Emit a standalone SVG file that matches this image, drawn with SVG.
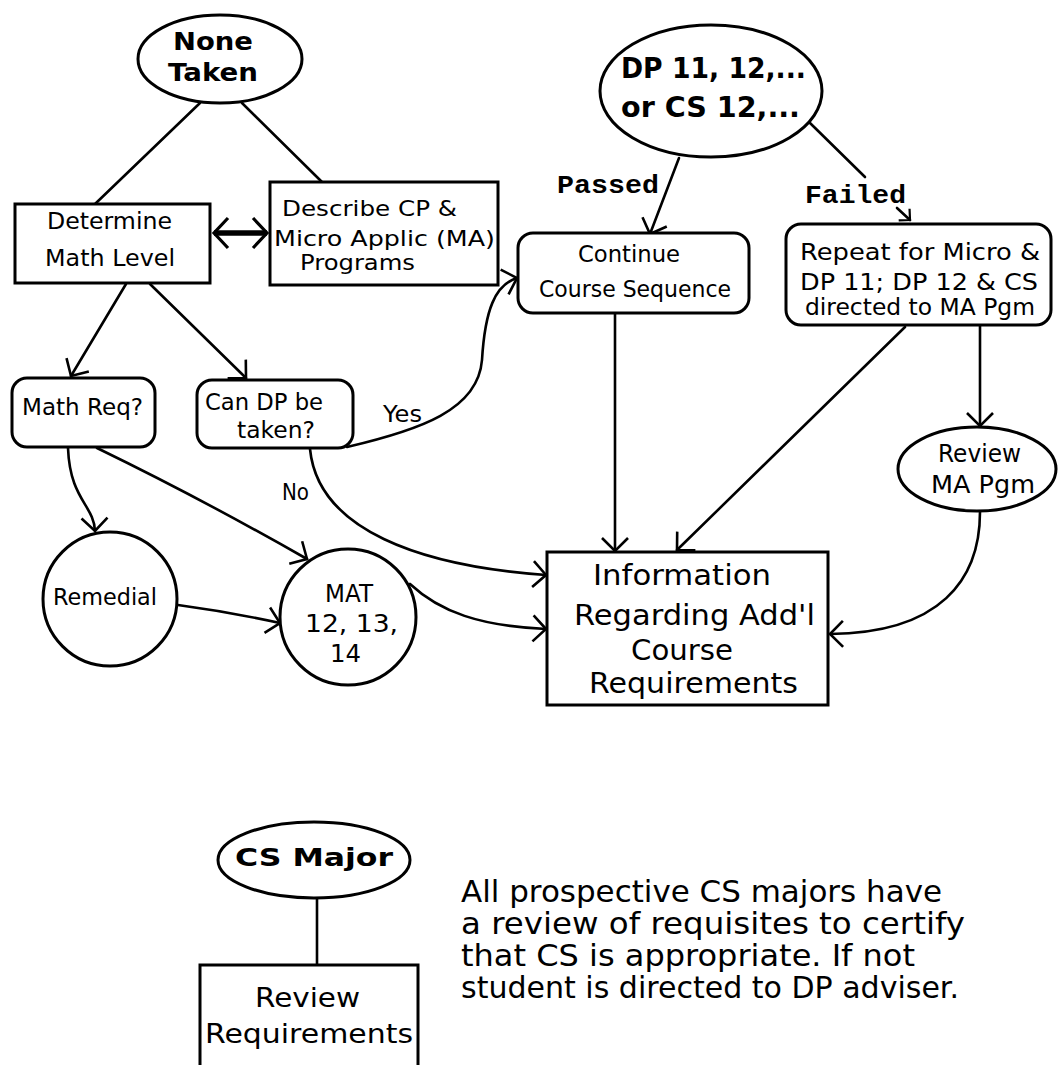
<svg xmlns="http://www.w3.org/2000/svg" width="1058" height="1065" viewBox="0 0 1058 1065">
<defs>
<style>
.shape{fill:#fff;stroke:#000;stroke-width:3}
.edge{fill:none;stroke:#000;stroke-width:2.6;stroke-linecap:round}
.t{font-family:"DejaVu Sans","Liberation Sans",sans-serif;fill:#000}
.b{font-family:"DejaVu Sans","Liberation Sans",sans-serif;font-weight:bold;fill:#000}
.m{font-family:"Liberation Mono","DejaVu Sans Mono",monospace;font-weight:bold;fill:#000}
</style>
<marker id="arr" viewBox="-15 -15 17 30" refX="0" refY="0" markerWidth="17" markerHeight="30" orient="auto" markerUnits="userSpaceOnUse">
<path d="M-13,-13 L0,0 L-13,13" fill="none" stroke="#000" stroke-width="2.6"/>
</marker>
<marker id="arrT" viewBox="-17 -18 20 36" refX="0" refY="0" markerWidth="20" markerHeight="36" orient="auto-start-reverse" markerUnits="userSpaceOnUse">
<path d="M-14,-15 L0,0 L-14,15" fill="none" stroke="#000" stroke-width="3.2"/>
</marker>
<marker id="arrS" viewBox="-10 -10 12 20" refX="0" refY="0" markerWidth="12" markerHeight="20" orient="auto" markerUnits="userSpaceOnUse">
<path d="M-8,-8 L0,0 L-8,8" fill="none" stroke="#000" stroke-width="2.2"/>
</marker>
</defs>
<rect width="1058" height="1065" fill="#fff"/>

<g id="connectors">
<line class="edge" x1="200" y1="103" x2="95" y2="204"/>
<line class="edge" x1="242" y1="103" x2="322" y2="182"/>
<line x1="214" y1="233" x2="267" y2="233" stroke="#000" stroke-width="5.5" marker-start="url(#arrT)" marker-end="url(#arrT)"/>
<line class="edge" x1="126" y1="284" x2="71" y2="376" marker-end="url(#arr)"/>
<line class="edge" x1="150" y1="284" x2="246" y2="378" marker-end="url(#arr)"/>
<path class="edge" d="M68,448 C70,500 94,505 95,531" marker-end="url(#arr)"/>
<path class="edge" d="M97,448 Q200,498 307,559" marker-end="url(#arr)"/>
<path class="edge" d="M178,605 Q230,612 280,623" marker-end="url(#arr)"/>
<path class="edge" d="M347,447 C420,430 478,410 482,360 C485,310 495,285 517,278" marker-end="url(#arr)"/>
<path class="edge" d="M310,449 C318,530 420,566 546,575" marker-end="url(#arr)"/>
<path class="edge" d="M410,584 C440,612 480,626 546,629" marker-end="url(#arr)"/>
<line class="edge" x1="679" y1="158" x2="650" y2="234" marker-end="url(#arr)"/>
<line class="edge" x1="810" y1="123" x2="865" y2="177"/>
<line class="edge" x1="897" y1="208" x2="910" y2="220" marker-end="url(#arrS)"/>
<line class="edge" x1="615" y1="313" x2="615" y2="551" marker-end="url(#arr)"/>
<line class="edge" x1="905" y1="327" x2="677" y2="550" marker-end="url(#arr)"/>
<line class="edge" x1="980" y1="326" x2="980" y2="426" marker-end="url(#arr)"/>
<path class="edge" d="M980,512 C980,580 940,633 830,634" marker-end="url(#arr)"/>
<line class="edge" x1="317" y1="897" x2="317" y2="965"/>
</g>

<g id="none-taken">
<ellipse class="shape" cx="220" cy="59" rx="82" ry="44"/>
<text class="b" font-size="25" x="173" y="50" textLength="80" lengthAdjust="spacingAndGlyphs">None</text>
<text class="b" font-size="25" x="168" y="81" textLength="90" lengthAdjust="spacingAndGlyphs">Taken</text>
</g>

<g id="determine-math-level">
<rect class="shape" x="15" y="204" width="195" height="79"/>
<text class="t" font-size="23" x="47" y="229" textLength="125" lengthAdjust="spacingAndGlyphs">Determine</text>
<text class="t" font-size="23" x="45" y="266" textLength="130" lengthAdjust="spacingAndGlyphs">Math Level</text>
</g>

<g id="describe-programs">
<rect class="shape" x="270" y="182" width="228" height="103"/>
<text class="t" font-size="22" x="282" y="216" textLength="175" lengthAdjust="spacingAndGlyphs">Describe CP &amp;</text>
<text class="t" font-size="22" x="274" y="246" textLength="221" lengthAdjust="spacingAndGlyphs">Micro Applic (MA)</text>
<text class="t" font-size="22" x="300" y="270" textLength="115" lengthAdjust="spacingAndGlyphs">Programs</text>
</g>

<g id="math-req">
<rect class="shape" x="12" y="378" width="143" height="69" rx="15"/>
<text class="t" font-size="23" x="22" y="415" textLength="121" lengthAdjust="spacingAndGlyphs">Math Req?</text>
</g>

<g id="can-dp-be-taken">
<rect class="shape" x="197" y="380" width="156" height="68" rx="15"/>
<text class="t" font-size="23" x="205" y="410" textLength="118" lengthAdjust="spacingAndGlyphs">Can DP be</text>
<text class="t" font-size="23" x="237" y="438" textLength="78" lengthAdjust="spacingAndGlyphs">taken?</text>
</g>

<g id="labels">
<text class="t" font-size="23" x="383" y="422" textLength="39" lengthAdjust="spacingAndGlyphs">Yes</text>
<text class="t" font-size="23" x="282" y="500" textLength="27" lengthAdjust="spacingAndGlyphs">No</text>
<text class="m" font-size="25" x="557" y="193" textLength="102" lengthAdjust="spacingAndGlyphs">Passed</text>
<text class="m" font-size="25" x="805" y="203" textLength="101" lengthAdjust="spacingAndGlyphs">Failed</text>
</g>

<g id="remedial">
<circle class="shape" cx="110" cy="599" r="67"/>
<text class="t" font-size="23" x="53" y="605" textLength="104" lengthAdjust="spacingAndGlyphs">Remedial</text>
</g>

<g id="mat">
<circle class="shape" cx="348" cy="617" r="68"/>
<text class="t" font-size="25" x="325" y="602" textLength="48" lengthAdjust="spacingAndGlyphs">MAT</text>
<text class="t" font-size="25" x="305" y="632" textLength="93" lengthAdjust="spacingAndGlyphs">12, 13,</text>
<text class="t" font-size="25" x="330" y="662" textLength="31" lengthAdjust="spacingAndGlyphs">14</text>
</g>

<g id="dp-cs">
<ellipse class="shape" cx="711" cy="91" rx="111" ry="66"/>
<text class="b" font-size="29" x="621" y="78" textLength="185" lengthAdjust="spacingAndGlyphs">DP 11, 12,...</text>
<text class="b" font-size="29" x="621" y="117" textLength="179" lengthAdjust="spacingAndGlyphs">or  CS 12,...</text>
</g>

<g id="continue-course-sequence">
<rect class="shape" x="518" y="233" width="231" height="80" rx="15"/>
<text class="t" font-size="23" x="578" y="262" textLength="102" lengthAdjust="spacingAndGlyphs">Continue</text>
<text class="t" font-size="23" x="539" y="297" textLength="192" lengthAdjust="spacingAndGlyphs">Course Sequence</text>
</g>

<g id="repeat">
<rect class="shape" x="786" y="224" width="265" height="101" rx="15"/>
<text class="t" font-size="23" x="800" y="260" textLength="240" lengthAdjust="spacingAndGlyphs">Repeat  for  Micro &amp;</text>
<text class="t" font-size="23" x="800" y="290" textLength="238" lengthAdjust="spacingAndGlyphs">DP 11;  DP 12 &amp; CS</text>
<text class="t" font-size="23" x="805" y="315" textLength="230" lengthAdjust="spacingAndGlyphs">directed to MA Pgm</text>
</g>

<g id="review-ma-pgm">
<ellipse class="shape" cx="977" cy="469" rx="79" ry="42"/>
<text class="t" font-size="24" x="938" y="462" textLength="83" lengthAdjust="spacingAndGlyphs">Review</text>
<text class="t" font-size="24" x="931" y="493" textLength="104" lengthAdjust="spacingAndGlyphs">MA  Pgm</text>
</g>

<g id="information">
<rect class="shape" x="547" y="552" width="281" height="153"/>
<text class="t" font-size="28" x="593" y="585" textLength="178" lengthAdjust="spacingAndGlyphs">Information</text>
<text class="t" font-size="28" x="574" y="625" textLength="241" lengthAdjust="spacingAndGlyphs">Regarding  Add'l</text>
<text class="t" font-size="28" x="631" y="660" textLength="102" lengthAdjust="spacingAndGlyphs">Course</text>
<text class="t" font-size="28" x="589" y="693" textLength="209" lengthAdjust="spacingAndGlyphs">Requirements</text>
</g>

<g id="cs-major">
<ellipse class="shape" cx="314" cy="860" rx="96" ry="38"/>
<text class="b" font-size="24" x="235" y="866" textLength="158" lengthAdjust="spacingAndGlyphs">CS Major</text>
</g>

<g id="review-requirements">
<rect class="shape" x="200" y="965" width="218" height="120"/>
<text class="t" font-size="26" x="255" y="1007" textLength="105" lengthAdjust="spacingAndGlyphs">Review</text>
<text class="t" font-size="26" x="205" y="1043" textLength="208" lengthAdjust="spacingAndGlyphs">Requirements</text>
</g>

<g id="note">
<text class="t" font-size="30" x="461" y="902" textLength="481" lengthAdjust="spacingAndGlyphs">All prospective CS majors have</text>
<text class="t" font-size="30" x="461" y="934" textLength="504" lengthAdjust="spacingAndGlyphs">a review of requisites to certify</text>
<text class="t" font-size="30" x="461" y="966" textLength="454" lengthAdjust="spacingAndGlyphs">that CS is appropriate.  If not</text>
<text class="t" font-size="30" x="461" y="998" textLength="498" lengthAdjust="spacingAndGlyphs">student is directed to DP adviser.</text>
</g>
</svg>
